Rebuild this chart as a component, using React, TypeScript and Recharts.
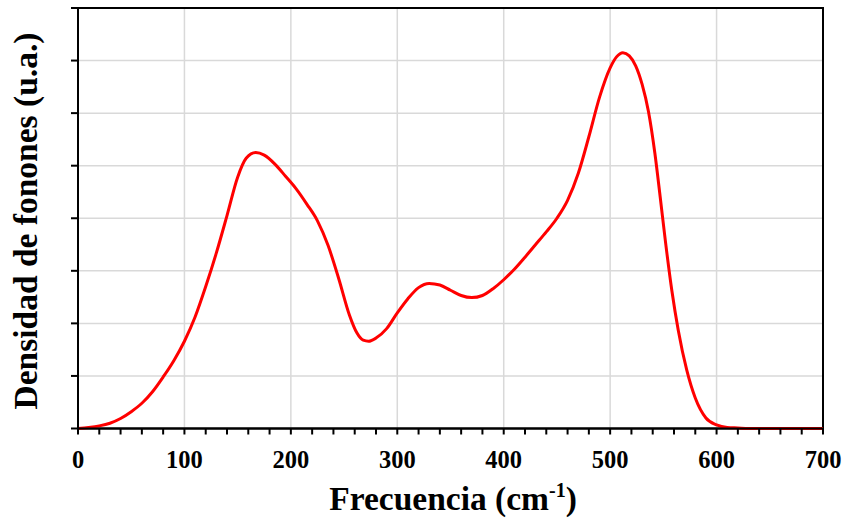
import { LineChart, Line, XAxis, YAxis, CartesianGrid, ReferenceArea } from 'recharts';

// frecuencia (cm-1) and densidad de fonones (u.a.)
const freq = [
  0, 10, 20, 30, 40, 50, 60, 70, 80, 90, 100, 110, 120, 130, 140, 150, 158, 167, 175, 185,
  195, 205, 215, 225, 235, 245, 255, 262, 268, 273, 280, 290, 300, 310, 320, 330, 340, 350,
  360, 370, 380, 390, 400, 410, 420, 430, 440, 450, 460, 470, 480, 490, 500, 506, 512, 518,
  524, 530, 536, 542, 547, 552, 558, 564, 572, 580, 590, 600, 610, 620, 630, 700,
];
const density = [
  0, 0.02, 0.05, 0.1, 0.19, 0.32, 0.48, 0.7, 0.98, 1.29, 1.66, 2.12, 2.7, 3.34, 4.05, 4.78, 5.14, 5.25, 5.2, 5.03,
  4.8, 4.56, 4.27, 3.95, 3.48, 2.85, 2.16, 1.82, 1.68, 1.66, 1.72, 1.9, 2.2, 2.47, 2.68, 2.76, 2.73, 2.63,
  2.53, 2.49, 2.53, 2.66, 2.83, 3.03, 3.26, 3.5, 3.74, 4.0, 4.34, 4.85, 5.55, 6.3, 6.86, 7.07, 7.15, 7.09,
  6.9, 6.55, 6.03, 5.24, 4.41, 3.55, 2.62, 1.87, 1.11, 0.58, 0.2, 0.07, 0.02, 0.01, 0, 0,
];
const xTicks = [0, 20, 40, 60, 80, 100, 120, 140, 160, 180, 200, 220, 240, 260, 280, 300, 320, 340, 360, 380,
  400, 420, 440, 460, 480, 500, 520, 540, 560, 580, 600, 620, 640, 660, 680, 700];
const yTicks = [0, 1, 2, 3, 4, 5, 6, 7, 8];

const data = freq.map((f, i) => ({ f, d: density[i] }));

const FONT = '"Liberation Serif", "Times New Roman", serif';

const XTitle = () => (
  <text x={453} y={510} textAnchor="middle" fontFamily={FONT} fontWeight="bold" fontSize={33.5} fill="#000">
    Frecuencia (cm
    <tspan fontSize={20} dy={-13}>-1</tspan>
    <tspan dy={13}>)</tspan>
  </text>
);

const YTitle = () => (
  <text x={37} y={221} transform="rotate(-90 37 221)" textAnchor="middle" fontFamily={FONT}
    fontWeight="bold" fontSize={33.5} fill="#000">
    Densidad de fonones (u.a.)
  </text>
);

const App = () => {
  return (
    <div style={{ position: 'absolute', left: 0, top: 0 }}>
      <LineChart width={844} height={518} data={data} margin={{ top: 8, right: 21, left: 0, bottom: 0 }}>
        <CartesianGrid stroke="#d9d9d9" strokeWidth={1.5} verticalValues={[100, 200, 300, 400, 500, 600]} />
        <XAxis
          dataKey="f"
          type="number"
          domain={[0, 700]}
          ticks={xTicks}
          height={89.5}
          tickSize={6}
          tickMargin={16}
          interval={0}
          tickFormatter={(v) => (v % 100 === 0 ? String(v) : '')}
          tick={{ fill: '#000', fontFamily: FONT, fontWeight: 'bold', fontSize: 24.5 }}
          axisLine={{ stroke: '#000', strokeWidth: 2 }}
          tickLine={{ stroke: '#000', strokeWidth: 2 }}
          label={<XTitle />}
        />
        <YAxis
          type="number"
          domain={[0, 8]}
          ticks={yTicks}
          width={78}
          tickSize={7}
          interval={0}
          tickFormatter={() => ''}
          axisLine={{ stroke: '#000', strokeWidth: 2 }}
          tickLine={{ stroke: '#000', strokeWidth: 2 }}
          label={<YTitle />}
        />
        <ReferenceArea x1={0} x2={700} y1={0} y2={8} fill="none" stroke="#000" strokeWidth={2} ifOverflow="visible" />
        <Line
          dataKey="d"
          type="monotone"
          stroke="#ff0000"
          strokeWidth={3}
          dot={false}
          activeDot={false}
          isAnimationActive={false}
        />
      </LineChart>
    </div>
  );
};

export default App;
